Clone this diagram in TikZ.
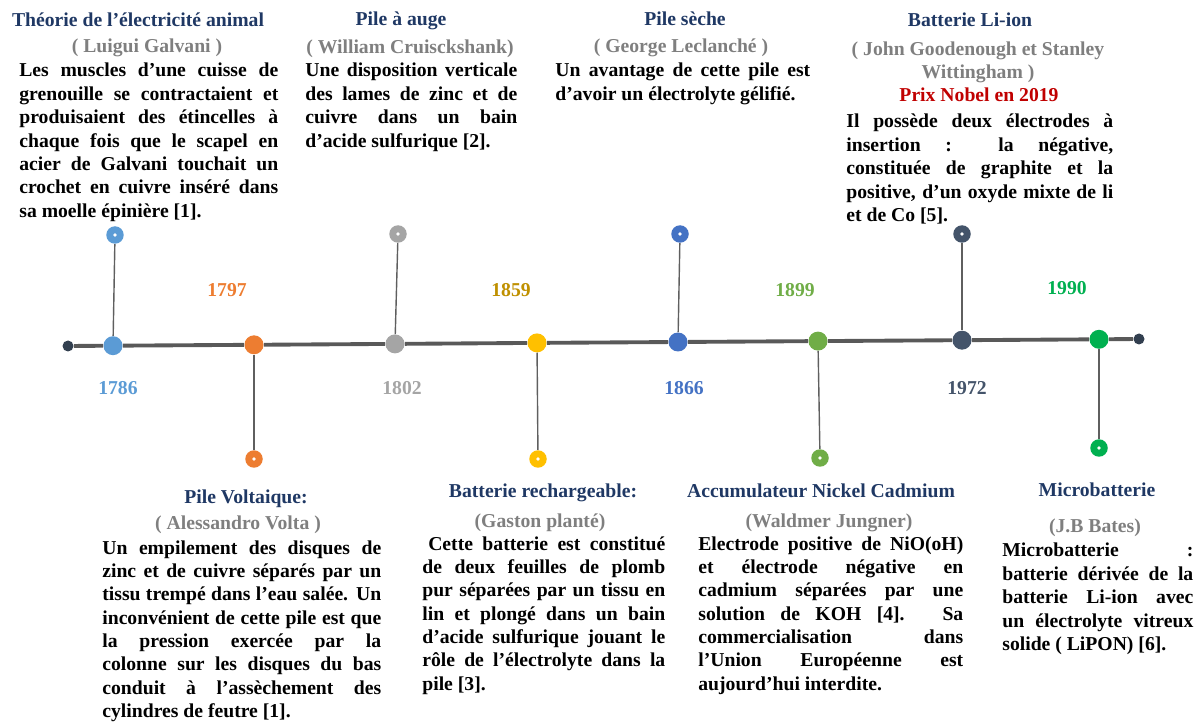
\documentclass[tikz,border=0pt]{standalone}
\usepackage{fontspec}
\setmainfont{Liberation Serif}
\usetikzlibrary{positioning}
\definecolor{ink}{HTML}{000000}
\definecolor{lineGray}{HTML}{595959}
\definecolor{stemGray}{HTML}{5F5F5F}
\definecolor{tipDark}{HTML}{323F4F}
\definecolor{headNavy}{HTML}{1F3864}
\definecolor{nameGray}{HTML}{7F7F7F}
\definecolor{nobelRed}{HTML}{C00000}
\definecolor{galvani}{HTML}{5B9BD5}
\definecolor{volta}{HTML}{ED7D31}
\definecolor{cruick}{HTML}{A5A5A5}
\definecolor{plante}{HTML}{FFC000}
\definecolor{planteText}{HTML}{BF9000}
\definecolor{leclanche}{HTML}{4472C4}
\definecolor{jungner}{HTML}{70AD47}
\definecolor{liion}{HTML}{44546A}
\definecolor{bates}{HTML}{00B050}
\hyphenpenalty=10000
\exhyphenpenalty=10000
\tolerance=10000
\hbadness=10000
\newcommand{\cardfont}{\fontsize{11.2}{13.3}\selectfont\bfseries}
\tikzset{
    event/.style={circle, fill=#1, minimum size=0.38cm, inner sep=0pt},
    marker/.style={circle, fill=#1, minimum size=0.35cm, inner sep=0pt,
                   path picture={\fill[white] (path picture bounding box.center) circle (1.1pt);}},
    endpoint/.style={circle, fill=tipDark, minimum size=0.22cm, inner sep=0pt},
    axis line/.style={lineGray, line width=2.2pt},
    stem/.style={stemGray, line width=0.8pt},
    year/.style={font=\cardfont, text=#1},
    heading/.style={font=\cardfont, text=headNavy, anchor=base, inner sep=0pt},
    inventor/.style={font=\cardfont, text=nameGray, anchor=base, inner sep=0pt, align=center},
    body text/.style={font=\cardfont, text=ink, anchor=base west, inner sep=0pt,
                      align=justify, text width=#1},
}

\begin{document}
\begin{tikzpicture}[x=0.02cm, y=-0.02cm]
\useasboundingbox (0,0) rectangle (1198,726);

% ---------------------------------------------------------------------------
% Timeline
% ---------------------------------------------------------------------------
\node[endpoint] (tStart) at (68,346) {};
\node[event=galvani] (e1786) at (113,345.7) {};
\node[event=volta] (e1797) at (254,344.8) {};
\node[event=cruick] (e1802) at (395,343.9) {};
\node[event=plante] (e1859) at (537,342.9) {};
\node[event=leclanche] (e1866) at (678,342.0) {};
\node[event=jungner] (e1899) at (818,341.1) {};
\node[event=liion] (e1972) at (962,340.2) {};
\node[event=bates] (e1990) at (1099,339.3) {};
\node[endpoint] (tEnd) at (1139,339) {};

\draw[axis line] (tStart) -- (e1786) -- (e1797) -- (e1802) -- (e1859)
    -- (e1866) -- (e1899) -- (e1972) -- (e1990) -- (tEnd);

% markers above and below the line
\node[marker=galvani] (m1786) at (115,235) {};
\node[marker=cruick] (m1802) at (398,234) {};
\node[marker=leclanche] (m1866) at (680,234) {};
\node[marker=liion] (m1972) at (962,234) {};
\node[marker=volta] (m1797) at (254,459) {};
\node[marker=plante] (m1859) at (538,459) {};
\node[marker=jungner] (m1899) at (820,458) {};
\node[marker=bates] (m1990) at (1099,448) {};

\draw[stem] (m1786) -- (e1786);
\draw[stem] (m1802) -- (e1802);
\draw[stem] (m1866) -- (e1866);
\draw[stem] (m1972) -- (e1972);
\draw[stem] (e1797) -- (m1797);
\draw[stem] (e1859) -- (m1859);
\draw[stem] (e1899) -- (m1899);
\draw[stem] (e1990) -- (m1990);

% years
\node[year=galvani] (y1786) at (118,388) {1786};
\node[year=volta] (y1797) at (227,290) {1797};
\node[year=cruick] (y1802) at (402,388) {1802};
\node[year=planteText] (y1859) at (511,290) {1859};
\node[year=leclanche] (y1866) at (684,388) {1866};
\node[year=jungner] (y1899) at (795,290) {1899};
\node[year=liion] (y1972) at (967,388) {1972};
\node[year=bates] (y1990) at (1067,288) {1990};

% ---------------------------------------------------------------------------
% Upper cards
% ---------------------------------------------------------------------------
\node[heading] (galvaniHead) at (138,27) {Théorie de l’électricité animal};
\node[inventor] (galvaniName) at (147,53) {( Luigui Galvani )};
\node[body text=5.18cm] (galvaniBody) at (19,77)
    {Les muscles d’une cuisse de\linebreak
     grenouille se contractaient et\linebreak
     produisaient des étincelles à\linebreak
     chaque fois que le scapel en\linebreak
     acier de Galvani touchait un\linebreak
     crochet en cuivre inséré dans\linebreak
     sa moelle épinière [1].};

\node[heading] (cruickHead) at (401,26) {Pile à auge};
\node[inventor] (cruickName) at (410,54) {( William Cruisckshank)};
\node[body text=4.24cm] (cruickBody) at (305,77)
    {Une disposition verticale\linebreak
     des lames de zinc et de\linebreak
     cuivre dans un bain\linebreak
     d’acide sulfurique [2].};

\node[heading] (leclancheHead) at (685,26) {Pile sèche};
\node[inventor] (leclancheName) at (681,53) {( George Leclanché )};
\node[body text=5.10cm] (leclancheBody) at (555,77)
    {Un avantage de cette pile est\linebreak
     d’avoir un électrolyte gélifié\linebreak
     [2].};

\node[heading] (liionHead) at (970,27) {Batterie Li-ion};
% base of a two-line centred node sits on its last line
\node[inventor] (liionName) at (978,79)
    {( John Goodenough et Stanley\\ Wittingham )};
\node[heading, text=nobelRed] (liionPrize) at (979,102) {Prix Nobel en 2019};
\node[body text=5.34cm] (liionBody) at (846,128)
    {Il possède deux électrodes à\linebreak
     insertion : la négative,\linebreak
     constituée de graphite et la\linebreak
     positive, d’un oxyde mixte de li\linebreak
     et de Co [5].};

% ---------------------------------------------------------------------------
% Lower cards
% ---------------------------------------------------------------------------
\node[heading] (voltaHead) at (246,503) {Pile Voltaique:};
\node[inventor] (voltaName) at (238,529) {( Alessandro Volta )};
\node[body text=5.58cm] (voltaBody) at (102,554)
    {Un empilement des disques de\linebreak
     zinc et de cuivre séparés par un\linebreak
     tissu trempé dans l’eau salée. Un\linebreak
     inconvénient de cette pile est que\linebreak
     la pression exercée par la\linebreak
     colonne sur les disques du bas\linebreak
     conduit à l’assèchement des\linebreak
     cylindres de feutre [1].};

\node[heading] (planteHead) at (543,498) {Batterie rechargeable:};
\node[inventor] (planteName) at (540,527) {(Gaston planté)};
\node[body text=4.86cm] (planteBody) at (422,550)
    {\hspace*{0.3em}Cette batterie est constitué\linebreak
     de deux feuilles de plomb\linebreak
     pur séparées par un tissu en\linebreak
     lin et plongé dans un bain\linebreak
     d’acide sulfurique jouant le\linebreak
     rôle de l’électrolyte dans la\linebreak
     pile [3].};

\node[heading] (jungnerHead) at (821,498) {Accumulateur Nickel Cadmium};
\node[inventor] (jungnerName) at (829,527) {(Waldmer Jungner)};
\node[body text=5.30cm] (jungnerBody) at (698,550)
    {Electrode positive de NiO(oH)\linebreak
     et électrode négative en\linebreak
     cadmium séparées par une\linebreak
     solution de KOH [4]. Sa\linebreak
     commercialisation dans\linebreak
     l’Union Européenne est\linebreak
     aujourd’hui interdite.};

\node[heading] (batesHead) at (1097,497) {Microbatterie};
\node[inventor] (batesName) at (1095,533) {(J.B Bates)};
\node[body text=3.82cm] (batesBody) at (1002,557)
    {Microbatterie :\linebreak
     batterie dérivée de la\linebreak
     batterie Li-ion avec\linebreak
     un électrolyte vitreux\linebreak
     solide ( LiPON) [6].};

\end{tikzpicture}
\end{document}
